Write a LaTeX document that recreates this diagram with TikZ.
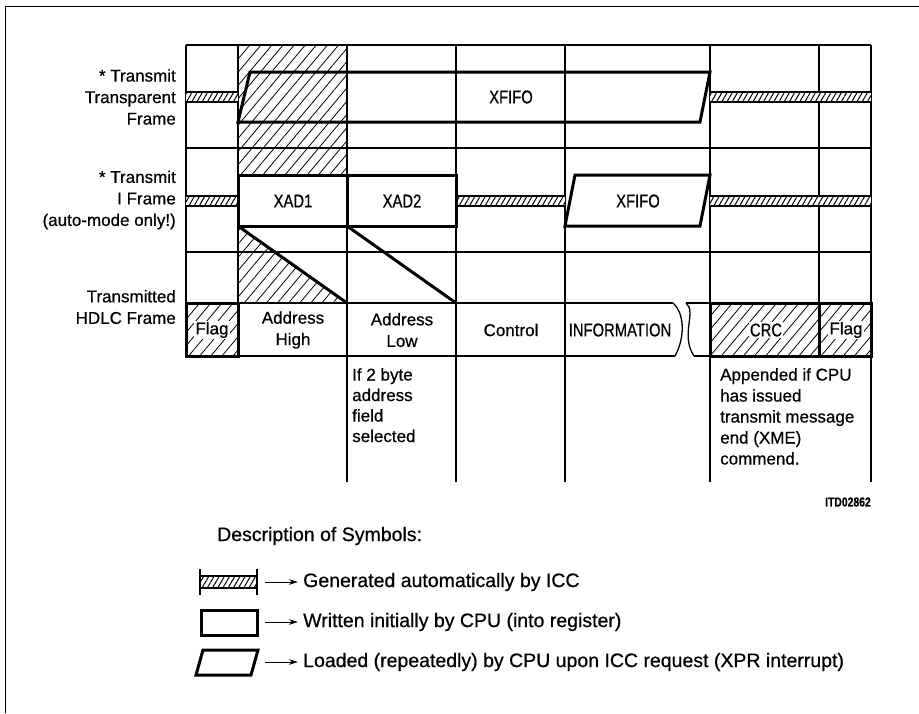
\documentclass[tikz,border=0pt]{standalone}
\usepackage{fontspec}
\setmainfont{Liberation Sans}[FakeBold=0.6]
\newfontfamily\narrowfont[FakeStretch=0.8,FakeBold=0.6]{Liberation Sans}
\usetikzlibrary{patterns.meta,arrows.meta}
\begin{document}
\begin{tikzpicture}[x=1pt,y=-1pt,
  gridline/.style={line width=1.2pt},
  boxline/.style={line width=3pt, line join=miter},
  hatchfill/.style={pattern={Lines[angle=50,distance=8.5pt,line width=0.8pt]}},
  stripefill/.style={pattern={Lines[angle=60,distance=4.5pt,line width=1pt]}},
  lbl/.style={font=\fontsize{17}{21.5}\selectfont, inner sep=0pt},
  leglbl/.style={font=\fontsize{19.5}{22}\selectfont, inner sep=0pt},
  caplbl/.style={font=\narrowfont\fontsize{18.5}{21}\selectfont, inner sep=0pt},
  arr/.style={line width=1pt, -{Stealth[length=9pt,width=5.5pt]}}
]
\useasboundingbox (0,0) rectangle (919,713);
% outer frame
\draw[line width=1pt] (5,713) -- (5,6) -- (919,6);

% hatched column regions
\fill[hatchfill] (238,45) rectangle (347,175);
\fill[hatchfill] (238,226) -- (347,303) -- (238,303) -- cycle;

% grid
\foreach \xx in {186,238,347,456,565,710,819,871}
  \draw[gridline] (\xx,45) -- (\xx,303);
\foreach \yy in {45,148,252}
  \draw[gridline] (186,\yy) -- (871,\yy);
\foreach \xx in {347,456,565,710,871}
  \draw[gridline] (\xx,356) -- (\xx,482);

% hatched stripes (idle)
\foreach \xa/\xb/\yc in {186/238/97, 710/871/97, 186/238/201, 456/565/201, 710/871/201}{
  \fill[white] (\xa,\yc-5) rectangle (\xb,\yc+5);
  \fill[stripefill] (\xa,\yc-5) rectangle (\xb,\yc+5);
  \draw[line width=2.2pt] (\xa,\yc-5) -- (\xb,\yc-5);
  \draw[line width=2.8pt] (\xa,\yc+5) -- (\xb,\yc+5);
}

% transparent frame XFIFO
\draw[boxline] (238,122) -- (250,72) -- (710,72) -- (700,122) -- cycle;
\node[caplbl] (xfifoA) at (511,97) {XFIFO};

% I frame
\draw[boxline] (238,175) rectangle (347,226);
\draw[boxline] (347,175) rectangle (456,226);
\draw[boxline] (565,226) -- (575,175) -- (710,175) -- (700,226) -- cycle;
\node[caplbl] (xad1) at (293,201) {XAD1};
\node[caplbl] (xad2) at (402,201) {XAD2};
\node[caplbl] (xfifoB) at (638,201) {XFIFO};

% diagonals
\draw[boxline] (238,226) -- (347,303);
\draw[boxline] (347,226) -- (456,303);

% HDLC frame row
\draw[line width=1.8pt] (186,303) -- (673,303);
\draw[line width=1.8pt] (186,356) -- (675,356);
\draw[line width=1.8pt] (686,303) -- (871,303);
\draw[line width=1.8pt] (694,356) -- (871,356);
\draw[line width=1.3pt] (673,303) .. controls (686,315) and (684,340) .. (675,356);
\draw[line width=1.3pt] (686,303) .. controls (697,312) and (680,335) .. (694,356);
\foreach \xx in {347,456,565}
  \draw[gridline] (\xx,303) -- (\xx,356);
\fill[hatchfill] (186,303) rectangle (238,356);
\fill[hatchfill] (710,303) rectangle (871,356);
\draw[boxline] (238,303) -- (238,356);
\draw[boxline] (186,303) rectangle (238,356);
\draw[boxline] (710,303) rectangle (819,356);
\draw[boxline] (819,303) rectangle (871,356);

\node[lbl, fill=white, inner sep=1pt] (flagA) at (212,330) {Flag};
\node[lbl, align=center] (addrH) at (293,330) {Address\\High};
\node[lbl, align=center] (addrL) at (402,330) {Address\\Low};
\node[lbl] (ctrl) at (511,330) {Control};
\node[caplbl] (info) at (620,330) {INFORMATION};
\node[caplbl, fill=white, inner sep=1pt] (crc) at (766,330) {CRC};
\node[lbl, fill=white, inner sep=1pt] (flagB) at (846,330) {Flag};

% row labels
\node[lbl, align=right, anchor=east] (rowT) at (176,97) {* Transmit\\Transparent\\Frame};
\node[lbl, align=right, anchor=east] (rowI) at (176,200) {* Transmit\\I Frame\\(auto-mode only!)};
\node[lbl, align=right, anchor=east] (rowH) at (176,307) {Transmitted\\HDLC Frame};

% notes
\node[lbl, align=left, anchor=north west, font=\fontsize{17}{20.5}\selectfont] (noteA) at (352,368) {If 2 byte\\address\\field\\selected};
\node[lbl, align=left, anchor=north west, font=\fontsize{17}{21}\selectfont] (noteB) at (720,368) {Appended if CPU\\has issued\\transmit message\\end (XME)\\commend.};

\node[font=\narrowfont\bfseries\fontsize{13}{15}\selectfont, inner sep=0pt, anchor=east] (itd) at (871,502) {ITD02862};

% legend
\node[leglbl, anchor=west] (desc) at (217,536) {Description of Symbols:};

% symbol 1: generated automatically
\fill[stripefill] (200,576) rectangle (257,588);
\draw[line width=2.2pt] (200,576) -- (257,576);
\draw[line width=2.6pt] (200,588) -- (257,588);
\draw[line width=2.8pt] (200,569) -- (200,595);
\draw[line width=2.8pt] (257,569) -- (257,595);
\coordinate (s1) at (265,582);
\node[leglbl, anchor=west] (t1) at (303,582) {Generated automatically by ICC};
\draw[arr] (s1) -- ([xshift=-5pt]t1.west);

% symbol 2: written by CPU
\draw[boxline] (201,610) rectangle (257,635);
\coordinate (s2) at (265,622);
\node[leglbl, anchor=west] (t2) at (303,622) {Written initially by CPU (into register)};
\draw[arr] (s2) -- ([xshift=-5pt]t2.west);

% symbol 3: loaded repeatedly
\draw[boxline] (196,675) -- (203,650) -- (258,650) -- (251,675) -- cycle;
\coordinate (s3) at (265,662);
\node[leglbl, anchor=west] (t3) at (303,662) {Loaded (repeatedly) by CPU upon ICC request (XPR interrupt)};
\draw[arr] (s3) -- ([xshift=-5pt]t3.west);
\end{tikzpicture}
\end{document}
